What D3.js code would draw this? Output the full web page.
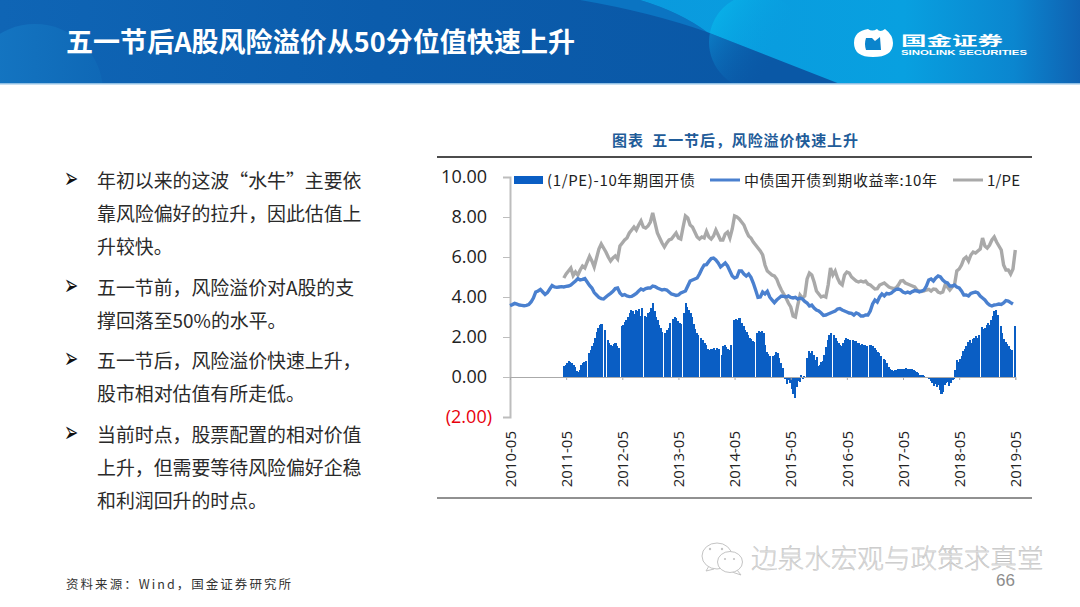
<!DOCTYPE html>
<html>
<head>
<meta charset="utf-8">
<script src="https://cdn.jsdelivr.net/npm/d3@7"></script>
<style>
    html, body { margin: 0; padding: 0; background: #fff; }
    svg { display: block; }
    text { font-family: "Noto Sans CJK SC", "Noto Sans", sans-serif; }
</style>
</head>
<body>
<div id="chart"></div>
<script>
// labels on the x axis, one a year
var tickLabels = ["2010-05","2011-05","2012-05","2013-05","2014-05","2015-05","2016-05","2017-05","2018-05","2019-05"];
var yTicks = [10, 8, 6, 4, 2, 0, -2];

// bond yield, one value every half month from 2010-05
var bondYield = [
    3.57,3.62,3.68,3.64,3.60,3.58,3.56,3.58,3.62,3.75,3.95,4.25,4.30,4.38,4.25,4.13,4.22,4.40,4.57,4.50,4.48,4.50,4.52,4.50,
    4.53,4.55,4.60,4.70,4.80,4.92,4.85,4.88,4.92,4.75,4.58,4.45,4.22,4.10,3.98,3.92,3.90,4.00,4.10,4.18,4.28,4.42,4.45,4.20,
    4.08,4.12,4.05,4.02,4.03,4.10,4.18,4.30,4.40,4.35,4.42,4.45,4.45,4.55,4.52,4.45,4.40,4.35,4.38,4.35,4.25,4.15,4.12,4.08,
    4.10,4.20,4.25,4.30,4.55,4.80,4.85,4.90,4.95,5.15,5.40,5.60,5.62,5.78,5.92,5.95,5.85,5.70,5.50,5.60,5.70,5.55,5.30,5.05,
    4.95,5.00,5.30,5.30,5.15,5.05,5.15,4.98,4.70,4.35,3.98,4.00,4.25,4.15,4.28,4.00,3.85,3.72,3.85,3.95,4.05,4.03,4.00,4.05,
    3.98,3.95,3.98,3.90,3.95,3.90,3.78,3.70,3.55,3.60,3.45,3.35,3.30,3.20,3.08,3.10,3.15,3.20,3.25,3.30,3.40,3.42,3.35,3.30,
    3.25,3.20,3.18,3.10,3.20,3.15,3.05,3.05,3.10,3.10,3.30,3.65,3.85,3.75,4.00,4.15,4.05,4.18,4.15,4.20,4.30,4.38,4.40,4.35,
    4.25,4.20,4.25,4.20,4.27,4.32,4.30,4.25,4.30,4.35,4.55,4.85,4.90,4.80,4.95,5.05,5.00,4.85,4.75,4.70,4.55,4.55,4.60,4.50,
    4.45,4.30,4.10,4.10,4.05,4.18,4.22,4.25,4.20,4.05,3.95,3.85,3.70,3.60,3.55,3.60,3.62,3.65,3.63,3.70,3.82,3.80,3.72,3.65
];

// 1/PE, one value every half month, starts about a year later
var earningsYield = [
    4.95,5.15,5.30,5.45,5.07,5.25,5.10,5.35,5.55,5.45,5.75,6.03,5.80,5.50,5.95,6.40,6.65,6.45,6.25,6.00,5.80,5.95,6.05,5.90,
    6.55,6.70,6.85,6.95,7.20,7.35,7.50,7.35,7.60,7.80,7.50,7.45,7.55,7.75,8.20,7.70,7.20,6.95,6.70,6.50,6.70,6.85,6.90,7.05,
    7.20,6.95,6.90,7.50,8.05,7.95,7.60,7.50,7.25,7.00,6.90,7.00,6.95,7.28,7.00,6.90,7.05,7.35,7.10,6.85,6.85,7.15,7.25,6.95,
    7.40,8.05,8.00,7.90,7.75,7.60,7.30,7.05,6.95,6.75,6.60,6.45,6.30,6.10,5.60,5.30,5.20,5.10,5.05,4.90,4.60,4.35,4.15,3.95,
    3.70,3.50,3.05,3.00,3.60,4.10,3.95,4.05,4.90,5.20,5.10,4.75,4.30,4.15,4.00,4.05,4.00,4.60,5.45,5.10,5.30,4.95,4.70,4.60,
    5.10,5.25,5.20,5.00,4.90,4.80,4.75,4.80,4.75,4.80,4.65,4.60,4.50,4.40,4.42,4.60,4.65,4.70,4.60,4.50,4.45,4.42,4.45,4.60,
    4.80,4.82,4.70,4.65,4.60,4.55,4.50,4.35,4.30,4.27,4.30,4.35,4.38,4.30,4.40,4.38,4.25,4.20,4.25,4.60,4.50,4.35,4.50,4.60,
    5.30,5.40,5.60,5.90,6.00,5.80,6.10,6.25,6.20,6.30,6.40,6.95,6.55,6.45,6.60,6.85,7.00,6.75,6.55,6.35,5.60,5.35,5.35,5.15,5.40,6.35
];

// (1/PE) minus bond yield, one value every third of a month, null where the source has a hole
var spread = [
    .53,.6,.68,.78,.75,.7,.62,.5,.3,.23,.35,.6,.68,.75,.82,null,1.2,1.35,1.55,1.7,1.95,2.25,2.45,2.6,2.67,null,2.35,null,1.85,1.7,1.6,1.55,1.65,1.7,1.55,1.45,
    null,2.55,2.6,2.75,2.85,3.0,3.2,3.35,3.3,3.15,3.35,3.3,3.4,3.05,3.45,null,3.05,3.0,3.2,3.25,3.45,3.7,3.3,3.0,2.85,2.6,2.45,2.25,null,2.2,2.37,2.45,2.7,null,2.9,3.0,
    2.95,2.8,2.7,2.65,null,3.2,3.7,3.5,3.35,3.2,3.0,2.65,2.4,2.2,2.1,null,1.95,1.85,1.7,1.6,1.4,1.37,1.42,1.4,1.45,1.35,1.45,1.4,null,1.1,1.55,1.6,1.5,1.4,1.35,1.6,
    null,2.85,2.9,2.85,2.95,2.95,2.7,2.55,2.37,2.25,2.1,1.95,1.9,1.8,1.75,null,2.2,2.28,2.25,2.3,2.2,1.6,1.25,1.15,1.05,null,1.05,1.1,1.25,1.2,.95,.7,.45,-.05,-.1,-.35,
    -.13,-.3,-.6,-.85,-1.05,-.5,-.2,-.25,.1,-.1,.05,0,.95,1.28,1.2,1.3,1.1,.85,1.0,.55,.6,.75,.8,1.1,1.5,1.85,2.1,2.2,null,2.1,1.95,1.8,1.7,1.6,1.55,1.7,
    1.85,1.95,1.9,1.85,null,1.85,1.8,1.78,1.72,1.68,1.6,1.65,1.6,1.62,1.55,null,1.6,1.6,1.55,1.45,1.35,1.25,1.2,1.05,null,.9,.87,.7,.5,.4,.35,.3,.33,.37,.4,.42,
    .42,.4,.38,.43,.4,.42,.38,.4,.35,.3,.25,.18,.12,.1,.08,.03,0,-.05,-.1,-.2,-.3,-.45,-.35,-.5,-.4,-.65,-.85,-.75,-.4,-.3,-.25,-.45,-.3,-.15,-.1,.35,
    .87,.75,.9,1.05,1.3,1.4,1.55,1.75,1.85,1.7,1.9,1.95,2.05,1.95,2.12,null,2.5,2.4,2.45,2.6,2.7,2.6,2.85,3.05,3.3,3.35,3.1,null,2.55,2.2,1.9,1.75,1.65,1.55,1.4,1.35,
    null,2.53
];

var legendNames = ["(1/PE)-10年期国开债", "中债国开债到期收益率:10年", "1/PE"];
var bullets = [
    ["年初以来的这波“水牛”主要依", "靠风险偏好的拉升，因此估值上", "升较快。"],
    ["五一节前，风险溢价对A股的支", "撑回落至50%的水平。"],
    ["五一节后，风险溢价快速上升，", "股市相对估值有所走低。"],
    ["当前时点，股票配置的相对价值", "上升，但需要等待风险偏好企稳", "和利润回升的时点。"]
];
var bulletLineY = [[181, 214, 247], [288, 321], [361, 394], [435, 468, 501]];

var monthsPerYear = 12;
var bondStep = 0.5, peStart = 11.5, peStep = 0.5;
var barStart = 11.5, barStep = 1 / 3;

var blue = "#0a5ec4", lineBlue = "#4a80cf", lineGrey = "#a9a9a9";

var svg = d3.select("#chart").append("svg").attr("width", 1080).attr("height", 607);
var defs = svg.append("defs");

function gradient(id, x2, y2, stops) {
    var g = defs.append("linearGradient").attr("id", id)
        .attr("x1", 0).attr("y1", 0).attr("x2", x2).attr("y2", y2);
    stops.forEach(function(s) {
        g.append("stop").attr("offset", s[0]).attr("stop-color", s[1]).attr("stop-opacity", s.length > 2 ? s[2] : 1);
    });
}
gradient("headBase", 1, 0, [[0, "#0f65b5"], [0.35, "#0b5cac"], [0.7, "#0a58a6"], [1, "#0a58a6"]]);
gradient("headCyan", 1, 0, [[0, "#0a9ade"], [0.6, "#08a0e0"], [0.85, "#0b86cf"], [1, "#0f62b2"]]);
gradient("circleTop", 1, 0.6, [[0, "#08b8ec"], [0.75, "#08a0e0", 0]]);
gradient("circleLow", 1, 0.7, [[0, "#0c94da"], [0.8, "#0a58a6", 0]]);
gradient("headLeft", 1, 0, [[0, "#1578c4"], [1, "#0f68b6"]]);

var cyanEdge = "M640,0 Q680,12 707,32 L840,84 L1080,84 L1080,0 Z";
defs.append("clipPath").attr("id", "headClip").append("rect").attr("width", 1080).attr("height", 84);
defs.append("clipPath").attr("id", "cyanClip").append("path").attr("d", cyanEdge);
defs.append("clipPath").attr("id", "darkClip").append("path").attr("d", "M0,0 L640,0 Q680,12 707,32 L840,84 L0,84 Z");

// header band
var head = svg.append("g");
head.append("rect").attr("width", 1080).attr("height", 84).attr("fill", "url(#headBase)");
var headInner = head.append("g").attr("clip-path", "url(#headClip)");
headInner.append("circle").attr("cx", 35).attr("cy", 92).attr("r", 68).attr("fill", "url(#headLeft)");
headInner.append("path").attr("d", "M580,0 Q650,12 707,32 Q680,12 640,0 Z").attr("fill", "#0b74c2");
headInner.append("path").attr("d", cyanEdge).attr("fill", "url(#headCyan)");
headInner.append("g").attr("clip-path", "url(#cyanClip)").append("circle")
    .attr("cx", 757).attr("cy", 42).attr("r", 48).attr("fill", "url(#circleTop)");
headInner.append("g").attr("clip-path", "url(#darkClip)").append("circle")
    .attr("cx", 757).attr("cy", 42).attr("r", 48).attr("fill", "url(#circleLow)");
head.append("rect").attr("y", 83).attr("width", 1080).attr("height", 1.5).attr("fill", "#8fbfe4");

head.append("text").attr("x", 66).attr("y", 52).attr("fill", "#fff")
    .attr("font-size", 27).attr("font-weight", 700).attr("textLength", 509)
    .text("五一节后A股风险溢价从50分位值快速上升");

// logo
head.append("path").attr("fill", "#fff")
    .attr("d", "M868,29 Q872,32 877,29 Q880,33 885,29 Q893,35 893,43 Q893,57 873,57 Q854,57 854,43 Q854,31 868,29 Z");
head.append("path").attr("fill", "#0a84cc")
    .attr("d", "M866,38 L872,38 L875,41 L880,37 L881,50 L866,50 Q864,44 866,38 Z");
head.append("text").attr("x", 901).attr("y", 44.5).attr("fill", "#fff")
    .attr("font-size", 13).attr("font-weight", 700)
    .attr("textLength", 102).attr("lengthAdjust", "spacingAndGlyphs").text("国金证券");
head.append("text").attr("x", 901).attr("y", 55).attr("fill", "#fff")
    .style("font-family", "'Liberation Sans'").attr("font-size", 7).attr("font-weight", 700)
    .attr("textLength", 126).attr("lengthAdjust", "spacingAndGlyphs").text("SINOLINK SECURITIES");

// left text
bullets.forEach(function(lines, i) {
    var by = bulletLineY[i][0] + 7;
    svg.append("text").attr("transform", "translate(64," + by + ") scale(1,1.7)").attr("fill", "#111")
        .style("font-family", "'DejaVu Sans'").attr("font-size", 17).text("➢");
    lines.forEach(function(line, j) {
        svg.append("text").attr("x", 97).attr("y", bulletLineY[i][j] + 6.5).attr("fill", "#2a2a2a")
            .attr("font-size", 18.9).text(line);
    });
});

svg.append("text").attr("x", 66).attr("y", 589).attr("fill", "#333")
    .style("font-family", "'Noto Sans CJK SC'").attr("font-size", 12.5).attr("textLength", 225)
    .text("资料来源：Wind，国金证券研究所");

// chart frame
svg.append("text").attr("x", 612).attr("y", 146).attr("fill", "#1f5c99")
    .attr("font-size", 15).attr("font-weight", 700).attr("textLength", 246)
    .attr("xml:space", "preserve").text("图表  五一节后，风险溢价快速上升");
svg.append("line").attr("x1", 437).attr("x2", 1032).attr("y1", 157).attr("y2", 157).attr("stroke", "#111").attr("stroke-width", 1.5);
svg.append("line").attr("x1", 437).attr("x2", 1032).attr("y1", 498).attr("y2", 498).attr("stroke", "#222").attr("stroke-width", 1);

var x = d3.scaleLinear().domain([0, 9 * monthsPerYear]).range([510, 1015.3]);
var y = d3.scaleLinear().domain([-2, 10]).range([417, 177]);

// bars
var barWidth = x(barStep) - x(0);
svg.append("g").attr("shape-rendering", "crispEdges").selectAll("rect")
    .data(spread.map(function(v, i) { return { v: v, i: i }; }).filter(function(d) { return d.v !== null; }))
    .join("rect")
    .attr("x", function(d) { return x(barStart + d.i * barStep) - barWidth / 2; })
    .attr("width", barWidth + 0.6)
    .attr("y", function(d) { return Math.min(y(d.v), y(0)); })
    .attr("height", function(d) { return Math.abs(y(d.v) - y(0)); })
    .attr("fill", blue);

// axes
var yAxis = svg.append("g").attr("transform", "translate(" + x(0) + ",0)")
    .call(d3.axisLeft(y).tickValues(yTicks).tickSize(7).tickPadding(16).tickFormat(function(d) {
        return d < 0 ? "(" + d3.format(".2f")(-d) + ")" : d3.format(".2f")(d);
    }));
yAxis.select(".domain").attr("stroke", "#bdbdbd").attr("stroke-width", 2);
yAxis.selectAll(".tick line").attr("stroke", "#bdbdbd");
yAxis.selectAll(".tick text").attr("fill", function(d) { return d < 0 ? "#e8000b" : "#222"; })
    .attr("dx", function(d) { return d < 0 ? 5 : 0; })
    .attr("font-size", 18).style("font-family", "'Open Sans'");

var xTickValues = tickLabels.map(function(d, i) { return i * monthsPerYear; });
var xAxis = svg.append("g").attr("transform", "translate(0," + y(0) + ")")
    .call(d3.axisBottom(x).tickValues(xTickValues).tickSize(3).tickFormat(""));
xAxis.select(".domain").attr("stroke", "#aaa");
xAxis.selectAll(".tick line").attr("stroke", "#aaa");

var xLabels = svg.append("g").attr("transform", "translate(0," + y(-2) + ")")
    .call(d3.axisBottom(x).tickValues(xTickValues).tickSize(0)
        .tickFormat(function(d, i) { return tickLabels[i]; }));
xLabels.select(".domain").remove();
xLabels.selectAll(".tick text")
    .attr("transform", "rotate(-90)")
    .attr("text-anchor", "end")
    .attr("x", -14).attr("y", 0).attr("dy", "0.35em")
    .attr("fill", "#222").attr("font-size", 15).style("font-family", "'Open Sans'");

// lines
var bondLine = d3.line().x(function(d, i) { return x(i * bondStep); }).y(function(d) { return y(d); });
var peLine = d3.line().x(function(d, i) { return x(peStart + i * peStep); }).y(function(d) { return y(d); });
svg.append("path").datum(earningsYield).attr("d", peLine).attr("fill", "none").attr("stroke", lineGrey).attr("stroke-width", 3.4);
svg.append("path").datum(bondYield).attr("d", bondLine).attr("fill", "none").attr("stroke", lineBlue).attr("stroke-width", 3.4);

// legend
var legend = svg.append("g");
legend.append("rect").attr("x", 514).attr("y", 176).attr("width", 29).attr("height", 8).attr("fill", blue);
legend.append("text").attr("x", 547).attr("y", 186).attr("font-size", 15).attr("fill", "#222").attr("textLength", 148).text(legendNames[0]);
legend.append("line").attr("x1", 710).attr("x2", 740).attr("y1", 180).attr("y2", 180).attr("stroke", lineBlue).attr("stroke-width", 3);
legend.append("text").attr("x", 744).attr("y", 186).attr("font-size", 15).attr("fill", "#222").attr("textLength", 193).text(legendNames[1]);
legend.append("line").attr("x1", 953).attr("x2", 983).attr("y1", 180).attr("y2", 180).attr("stroke", lineGrey).attr("stroke-width", 3);
legend.append("text").attr("x", 987).attr("y", 186).attr("font-size", 15).attr("fill", "#222").attr("textLength", 33).text(legendNames[2]);

// watermark and page number
var mark = svg.append("g").attr("fill", "#fff").attr("stroke", "#c4c4c4").attr("stroke-width", 1);
mark.append("path").attr("d", "M709,566 L706,571 L714,569");
mark.append("ellipse").attr("cx", 717).attr("cy", 556).attr("rx", 15).attr("ry", 13);
mark.append("path").attr("d", "M737,570 L741,575 L732,572");
mark.append("ellipse").attr("cx", 730).attr("cy", 562).attr("rx", 12.5).attr("ry", 10.5);
var eyes = svg.append("g").attr("fill", "#c4c4c4");
eyes.append("circle").attr("cx", 710).attr("cy", 549).attr("r", 1.2);
eyes.append("circle").attr("cx", 722).attr("cy", 549).attr("r", 1.2);
eyes.append("circle").attr("cx", 725).attr("cy", 559).attr("r", 1.1);
eyes.append("circle").attr("cx", 734).attr("cy", 559).attr("r", 1.1);
svg.append("text").attr("x", 751).attr("y", 568).attr("font-size", 26.6).attr("font-weight", 300).attr("fill", "#dcdcdc")
    .attr("stroke", "#a8a8a8").attr("stroke-width", 0.25).text("边泉水宏观与政策求真堂");
svg.append("text").attr("x", 1015).attr("y", 586).attr("text-anchor", "end").attr("fill", "#8c8c8c")
    .style("font-family", "'Liberation Sans'").attr("font-size", 17).text("66");
</script>
</body>
</html>
